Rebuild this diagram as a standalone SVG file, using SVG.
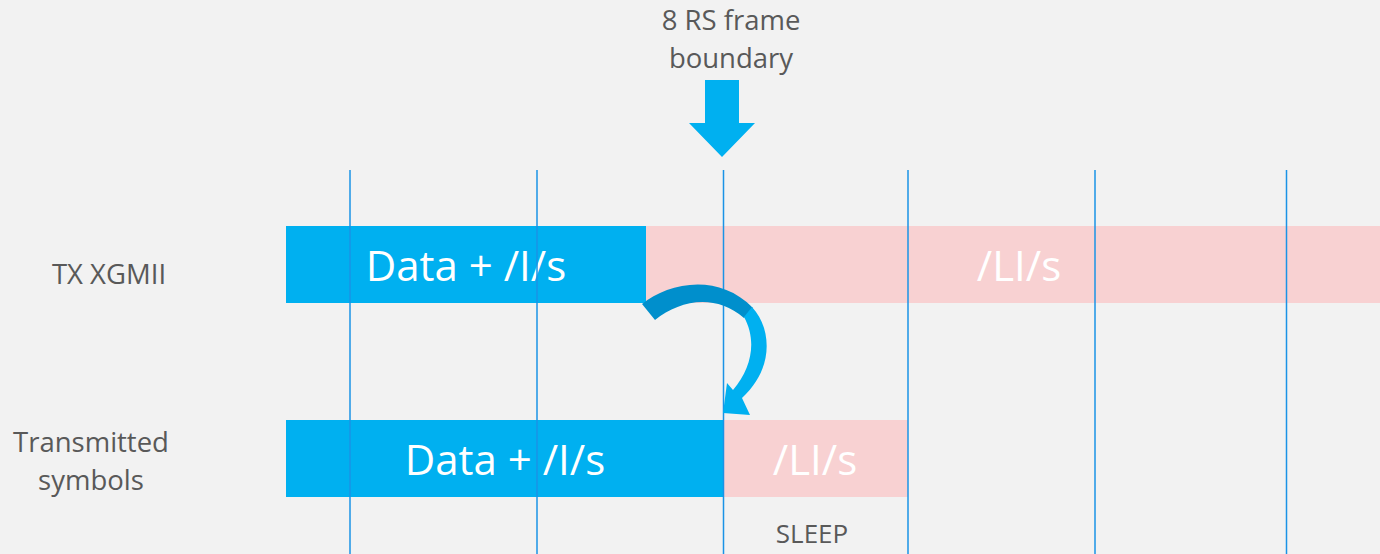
<svg xmlns="http://www.w3.org/2000/svg" width="1380" height="554" viewBox="0 0 1380 554">
  <style>
    .bg { fill: #f2f2f2; }
    .data { fill: #00b0f0; }
    .idle { fill: #f8d1d2; }
    .grid { stroke: #1a93e6; stroke-width: 1.5; fill: none; }
    .big { font-family: "Open Sans", "Liberation Sans", sans-serif; font-size: 42px; fill: #ffffff; text-anchor: middle; }
    .lbl { font-family: "Open Sans", "Liberation Sans", sans-serif; font-size: 27.5px; fill: #595959; text-anchor: middle; }
    .small { font-size: 26px; }
  </style>

  <rect class="bg" x="0" y="0" width="1380" height="554"/>

  <!-- TX XGMII row -->
  <g id="tx-data">
    <rect class="data" x="286" y="226" width="361" height="77"/>
    <text class="big" x="466" y="281">Data + /I/s</text>
  </g>
  <g id="tx-li">
    <rect class="idle" x="646" y="226" width="734" height="77"/>
    <text class="big" x="1019" y="281">/LI/s</text>
  </g>

  <!-- Transmitted symbols row -->
  <g id="sym-data">
    <rect class="data" x="286" y="420" width="438" height="77"/>
    <text class="big" x="505" y="475">Data + /I/s</text>
  </g>
  <g id="sym-li">
    <rect class="idle" x="724" y="420" width="184" height="77"/>
    <text class="big" x="815" y="475">/LI/s</text>
  </g>

  <!-- frame grid -->
  <g id="grid">
    <line class="grid" x1="350" y1="170" x2="350" y2="554"/>
    <line class="grid" x1="537" y1="170" x2="537" y2="554"/>
    <line class="grid" x1="723.5" y1="170" x2="723.5" y2="554"/>
    <line class="grid" x1="908" y1="170" x2="908" y2="554"/>
    <line class="grid" x1="1095" y1="170" x2="1095" y2="554"/>
    <line class="grid" x1="1286.5" y1="170" x2="1286.5" y2="554"/>
  </g>

  <!-- row labels -->
  <g id="labels">
    <text class="lbl" x="109" y="284">TX XGMII</text>
    <text class="lbl" x="91" y="452">Transmitted</text>
    <text class="lbl" x="91" y="490">symbols</text>
    <text class="lbl small" x="812" y="543">SLEEP</text>
  </g>

  <!-- boundary marker -->
  <g id="boundary">
    <text class="lbl" x="731" y="30">8 RS frame</text>
    <text class="lbl" x="731" y="68">boundary</text>
    <path class="data" d="M705 80 H739 V123 H755 L722 157 L689 123 H705 Z"/>
  </g>

  <!-- connectors -->
  <g id="connectors">
    <path fill="#008fcc" d="M642 304 C668 283 718 272 753 308 L744 318 C715 293 680 300 655 320 Z"/>
    <path class="data" d="M752 307 C773 330 773 370 742 398 L750 415 L723 413 L727 383 L733 390 C752 368 757 340 744 317 Z"/>
  </g>
</svg>
